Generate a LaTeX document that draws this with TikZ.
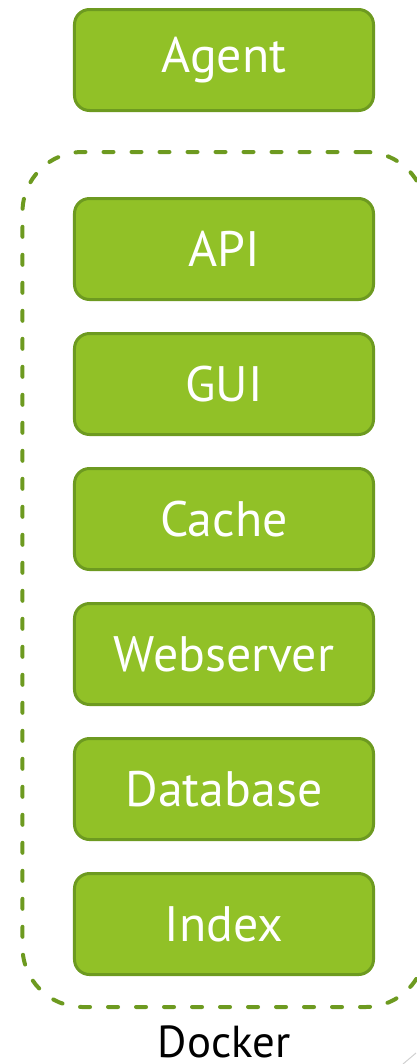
\documentclass[tikz,border=0pt]{standalone}
\usepackage{fontspec}
\setmainfont{PT Sans}
\usetikzlibrary{fit,positioning}
\definecolor{boxfill}{HTML}{91C127}
\definecolor{boxline}{HTML}{6D9A20}
\tikzset{
    node distance=34bp, % gap between two stacked boxes
    block/.style={draw=boxline, fill=boxfill, line width=3bp, rounded corners=15bp,
        minimum width=299bp, minimum height=101bp, inner sep=0pt, outer sep=0pt,
        text=white, font=\fontsize{50}{60}\selectfont},
    dockerbox/.style={draw=boxline, line width=4bp, line cap=round,
        dash pattern=on 10bp off 18bp, rounded corners=60bp, inner sep=0pt, outer sep=0pt},
}

\begin{document}
\begin{tikzpicture}[x=1bp,y=1bp]
  \useasboundingbox (0,0) rectangle (416,-1064);

  \node[block] (agent) at (224,-60) {Agent};
  \node[block, below=88bp of agent] (api) {API};
  \node[block, below=of api] (gui) {GUI};
  \node[block, below=of gui] (cache) {Cache};
  \node[block, below=of cache] (webserver) {Webserver};
  \node[block, below=of webserver] (database) {Database};
  \node[block, below=of database] (index) {Index};

  % dashed container round the services
  \coordinate (d_tl) at ([xshift=-52bp,yshift=46.5bp]api.north west);
  \coordinate (d_br) at ([xshift=52bp,yshift=-32.5bp]index.south east);
  \node[dockerbox, fit=(d_tl)(d_br)] (docker) {};
  \node[anchor=base, inner sep=0pt, font=\fontsize{45}{54}\selectfont] (docker_label)
      at ([yshift=-50bp]docker.south) {Docker};

  \draw[black!18, line width=1bp] (416,-1053) -- (403,-1064);
\end{tikzpicture}
\end{document}
